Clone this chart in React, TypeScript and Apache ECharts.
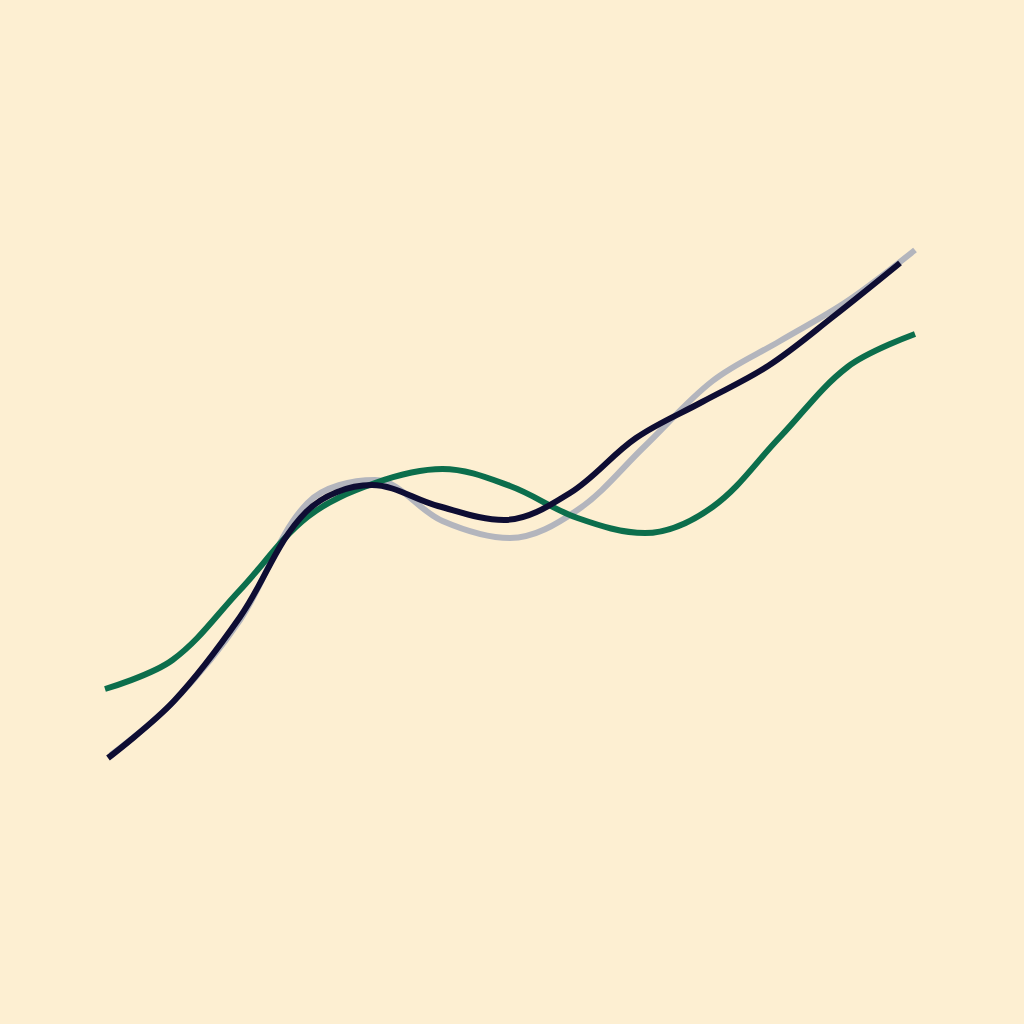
import React, { useEffect, useRef } from 'react';
import * as echarts from 'echarts';

// valores
const xsGreen: number[] = [0.5, 7.25, 14, 20.75, 27.5, 34.25, 41, 47.75, 54.5, 61.25, 68, 74.75, 81.5];
const xsGray: number[] = [1.1, 7.4, 14, 20.75, 27.5, 34.25, 41, 47.75, 54.5, 61.25, 68, 74.75, 81.5];
const xsNavy: number[] = [0.8, 7.4, 14, 20.6, 27.2, 33.8, 40.4, 47, 53.6, 60.2, 66.8, 73.4, 80];

const grayValues: number[] = [24.5, 29.9, 38, 49.7, 52, 47.9, 46.2, 49, 55.4, 61.9, 65.9, 69.9, 75];
const greenValues: number[] = [31.1, 34, 41, 48.3, 51.7, 53.1, 51.4, 48.2, 46.7, 49.3, 56.3, 63.3, 66.6];
const navyValues: number[] = [24.2, 29.9, 38.3, 48.8, 51.5, 49.4, 48, 50.7, 56.2, 59.8, 63.4, 68.4, 73.7];

const pairs = (xs: number[], ys: number[]) => xs.map((x, i) => [x, ys[i]]);

const App: React.FC = () => {
    const chartRef = useRef<HTMLDivElement>(null);

    useEffect(() => {
        if (!chartRef.current) return;
        const chart = echarts.init(chartRef.current, undefined, { renderer: 'svg' });

        const line = (name: string, data: number[][], color: string, z: number) => ({
            name,
            type: 'line',
            data,
            smooth: 0.35,
            showSymbol: false,
            z,
            lineStyle: { color, width: 6, cap: 'butt' },
        });

        chart.setOption({
            animation: false,
            backgroundColor: '#FDEFD2',
            grid: { left: 100, right: 104, top: 0, bottom: 24 },
            xAxis: { type: 'value', min: 0, max: 82, show: false },
            yAxis: { type: 'value', min: 0, max: 100, show: false },
            series: [
                line('Gris', pairs(xsGray, grayValues), '#B3B5BD', 1),
                line('Verde', pairs(xsGreen, greenValues), '#0C6E4C', 2),
                line('Azul', pairs(xsNavy, navyValues), '#0E0D33', 3),
            ],
        });

        return () => {
            chart.dispose();
        };
    }, []);

    return (
        <div
            ref={chartRef}
            style={{ position: 'absolute', left: 0, top: 0, width: '1024px', height: '1024px' }}
        />
    );
};

export default App;
